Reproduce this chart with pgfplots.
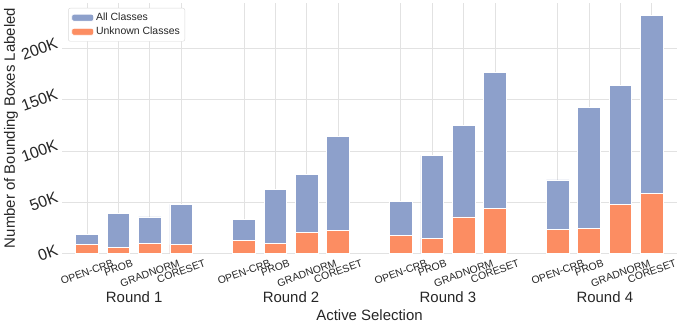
\documentclass[border=0pt]{standalone}
\usepackage{fontspec}
\setmainfont{Liberation Sans}
\usepackage{graphicx}
\usepackage{pgfplots}
\pgfplotsset{compat=1.18}
\definecolor{allc}{HTML}{8DA0CB}
\definecolor{unkc}{HTML}{FC8D62}
\definecolor{gridc}{HTML}{E2E2E2}
\definecolor{legc}{HTML}{D8D8D8}
\newcommand{\xl}[1]{\rotatebox{20}{#1}}
\newcommand{\yl}[1]{\rotatebox{20}{#1}}

% values in thousands of boxes
\pgfplotstableread{
x   all    unk
0   18.6   8.1
1   38.9   5.2
2   35.3   9.5
3   47.7   8.1
5   32.7   12.6
6   62.0   9.1
7   77.0   20.2
8   114.3  22.5
10  50.3   17.3
11  95.7   14.7
12  124.8  35.3
13  177.0  43.7
15  71.6   23.5
16  143.0  23.8
17  164.0  48.0
18  233.0  58.8
}\boxes

\begin{document}
\begin{tikzpicture}
\begin{axis}[
  scale only axis, width=615bp, height=250bp,
  xmin=-0.8, xmax=18.8, ymin=0, ymax=245,
  clip mode=individual,
  axis line style={draw=none},
  major tick length=0pt,
  grid=major, grid style={gridc, line width=0.9pt},
  xtick={0,1,2,3,5,6,7,8,10,11,12,13,15,16,17,18},
  xticklabels={\xl{OPEN-CRB},\xl{PROB},\xl{GRADNORM},\xl{CORESET},
               \xl{OPEN-CRB},\xl{PROB},\xl{GRADNORM},\xl{CORESET},
               \xl{OPEN-CRB},\xl{PROB},\xl{GRADNORM},\xl{CORESET},
               \xl{OPEN-CRB},\xl{PROB},\xl{GRADNORM},\xl{CORESET}},
  xticklabel style={anchor=north, inner sep=0pt, yshift=-6bp,
                    font=\fontsize{10.5}{12}\selectfont, text=black!85},
  ytick={0,50,100,150,200},
  yticklabels={\yl{0K},\yl{50K},\yl{100K},\yl{150K},\yl{200K}},
  yticklabel style={anchor=east, inner sep=0pt, xshift=-3bp,
                    font=\fontsize{16}{18}\selectfont, text=black!85},
  ylabel={Number of Bounding Boxes Labeled},
  every axis y label/.style={at={(axis description cs:-0.083,0.5)},
                    rotate=90, anchor=center,
                    font=\fontsize{15}{18}\selectfont, text=black!85},
  xlabel={Active Selection},
  every axis x label/.style={at={(axis description cs:0.5,-0.248)},
                    anchor=center,
                    font=\fontsize{15}{18}\selectfont, text=black!85},
  ybar, bar width=0.72, bar shift=0pt,
  legend style={at={(axis description cs:0.01,0.98)}, anchor=north west,
                draw=legc, rounded corners=2pt, fill=white,
                font=\fontsize{10.5}{12}\selectfont, text=black!85,
                row sep=1pt, inner sep=3pt},
  legend cell align=left,
  legend image code/.code={\fill[#1] (0bp,-3.5bp) rectangle (22bp,3.5bp);},
]
\addplot[fill=allc, draw=white, line width=0.8pt] table[x=x, y=all] {\boxes};
\addlegendentry{All Classes}
\addplot[fill=unkc, draw=white, line width=0.8pt] table[x=x, y=unk] {\boxes};
\addlegendentry{Unknown Classes}

\node[font=\fontsize{15}{18}\selectfont, text=black!85] at (axis cs:1.5,0) [yshift=-44bp] {Round 1};
\node[font=\fontsize{15}{18}\selectfont, text=black!85] at (axis cs:6.5,0) [yshift=-44bp] {Round 2};
\node[font=\fontsize{15}{18}\selectfont, text=black!85] at (axis cs:11.5,0) [yshift=-44bp] {Round 3};
\node[font=\fontsize{15}{18}\selectfont, text=black!85] at (axis cs:16.5,0) [yshift=-44bp] {Round 4};
\end{axis}
\pgfresetboundingbox
\path[use as bounding box] (-62bp,-72bp) rectangle (619bp,253bp);
\end{tikzpicture}
\end{document}
